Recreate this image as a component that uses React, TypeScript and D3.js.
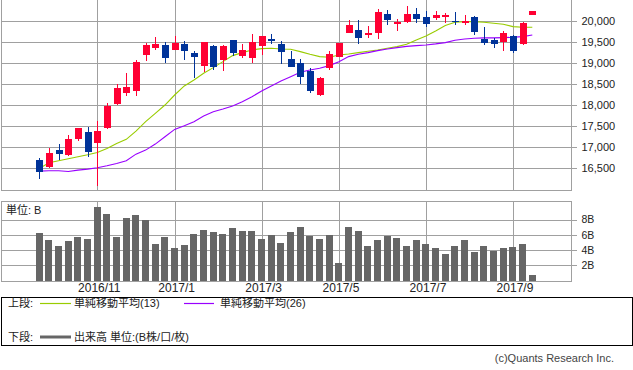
import React from 'react';
import * as d3 from 'd3';

const weeks = [
  '2016-09-26','2016-10-03','2016-10-10','2016-10-17','2016-10-24','2016-10-31','2016-11-07','2016-11-14','2016-11-21','2016-11-28',
  '2016-12-05','2016-12-12','2016-12-19','2016-12-26','2017-01-02','2017-01-09','2017-01-16','2017-01-23','2017-01-30','2017-02-06',
  '2017-02-13','2017-02-20','2017-02-27','2017-03-06','2017-03-13','2017-03-20','2017-03-27','2017-04-03','2017-04-10','2017-04-17',
  '2017-04-24','2017-05-01','2017-05-08','2017-05-15','2017-05-22','2017-05-29','2017-06-05','2017-06-12','2017-06-19','2017-06-26',
  '2017-07-03','2017-07-10','2017-07-17','2017-07-24','2017-07-31','2017-08-07','2017-08-14','2017-08-21','2017-08-28','2017-09-04',
  '2017-09-11','2017-09-18'
];

const openP = [16697,16540,16934,16822,17194,17361,17100,17455,18024,18286,18333,19187,19353,19424,19305,19448,19234,18926,19400,19068,
  19542,19163,19115,19400,19566,19448,19092,18997,18807,18238,18878,19139,19708,19779,19660,19708,20159,19929,19969,20159,
  20088,20064,20088,19993,19945,20088,19566,19542,19495,19637,19448,20135];
const highP = [16744,16981,17076,17289,17460,17487,17622,18047,18499,18760,19068,19471,19613,19495,19637,19519,19281,19495,19424,19424,
  19542,19447,19684,19637,19684,19519,19281,19092,18878,18665,19281,19471,20017,20017,19874,20277,20254,20040,20349,20301,
  20230,20230,20183,20206,20135,20112,19850,19589,19756,19660,19969,20230];
const lowP = [16254,16520,16697,16799,17155,16776,16087,17431,18001,18214,18214,19044,19305,18997,19305,19068,18641,18783,18831,18807,
  19163,19115,18997,19187,19448,18973,18902,18499,18286,18214,18831,19139,19708,19448,19589,19566,19898,19756,19945,19945,
  19850,20017,19945,19898,19898,19660,19424,19353,19281,19234,19424,20135];
const closeP = [16420,16863,16839,17194,17455,16887,17385,17976,18404,18428,19021,19424,19448,19115,19471,19281,19147,19495,18910,19400,
  19242,19305,19495,19637,19518,19258,18902,18665,18333,18641,19210,19471,19898,19589,19708,20206,20017,19969,20159,20040,
  19922,20135,20135,19969,19993,19732,19471,19448,19708,19281,19945,20230];

const ma13 = [16499,16633,16681,16728,16776,16823,16878,16973,17092,17187,17384,17606,17803,18001,18238,18452,18594,18752,18886,19028,
  19171,19242,19305,19337,19345,19329,19321,19266,19203,19147,19131,19187,19210,19242,19273,19305,19345,19384,19440,19542,
  19637,19756,19882,19961,19977,19977,19961,19937,19913,19858,19843,19843];
const ma26 = [16436,16444,16444,16428,16459,16483,16515,16562,16617,16681,16838,16933,17076,17250,17424,17511,17606,17740,17843,17906,
  17977,18080,18198,18333,18452,18570,18673,18776,18831,18870,18934,19028,19147,19203,19242,19289,19329,19360,19390,19408,
  19424,19448,19479,19535,19566,19582,19590,19590,19597,19605,19621,19661];

const volumeB = [6.2,5.3,4.5,5.2,5.7,5.4,9.6,8.7,5.7,8.2,8.6,8.0,4.8,5.7,4.3,4.65,6.1,6.6,6.35,6.1,
  6.9,6.5,6.5,5.4,6.0,4.9,6.35,7.0,5.9,5.4,6.0,2.3,7.0,6.5,4.5,5.3,5.8,5.6,4.5,5.3,
  4.8,4.3,3.5,4.5,5.3,3.7,4.5,3.9,4.3,4.4,4.8,0.7];

const tickWeeks = ['2016-11-07','2017-01-02','2017-03-06','2017-05-01','2017-07-03','2017-09-04'];
const tickLabels = ['2016/11','2017/1','2017/3','2017/5','2017/7','2017/9'];
const priceTicks = [16500,17000,17500,18000,18500,19000,19500,20000];
const volumeTicks = [2,4,6,8];

const UP = '#ff0033';
const DOWN = '#003399';
const GRID = '#a0a0a0';
const LAT = '"Liberation Sans", Arial, sans-serif';
const JP = '"Liberation Sans", "Noto Sans CJK JP", sans-serif';

export default function App() {
  const L = 1, R = 571.5;
  const x = d3.scalePoint<string>().domain(weeks).range([39.3, 532.3]);
  const yP = d3.scaleLinear().domain([16000, 20500]).range([189.5, -0.5]);
  const yV = d3.scaleLinear().domain([0, 8]).range([280.7, 219.5]);
  const pTop = 0, pBot = 190.5, vTop = 201.5, vBot = 281;
  const bw = 7;
  const idx = weeks.map((_, i) => i);
  const lineP = (arr: number[]) =>
    d3.line<number>().x(i => x(weeks[i])!).y(i => yP(arr[i]))(idx) || '';

  return (
    <svg width={633} height={370} style={{ position: 'absolute', left: 0, top: 0, background: '#fff' }}>
      {/* price panel grid */}
      <g shapeRendering="crispEdges" stroke={GRID} strokeWidth={1}>
        {priceTicks.map(t => (
          <line key={t} x1={L} x2={R + 5} y1={Math.round(yP(t)) + 0.5} y2={Math.round(yP(t)) + 0.5} />
        ))}
        {tickWeeks.map(w => (
          <line key={w} x1={Math.round(x(w)!) + 0.5} x2={Math.round(x(w)!) + 0.5} y1={pTop} y2={pBot} />
        ))}
        <line x1={L + 0.5} x2={L + 0.5} y1={pTop} y2={pBot} />
        <line x1={R} x2={R} y1={pTop} y2={pBot} />
        <line x1={L} x2={R} y1={pBot} y2={pBot} />
      </g>
      {/* volume panel grid */}
      <g shapeRendering="crispEdges" stroke={GRID} strokeWidth={1}>
        {volumeTicks.map(t => (
          <line key={t} x1={L} x2={R + 5} y1={Math.round(yV(t)) + 0.5} y2={Math.round(yV(t)) + 0.5} />
        ))}
        {tickWeeks.map(w => (
          <line key={w} x1={Math.round(x(w)!) + 0.5} x2={Math.round(x(w)!) + 0.5} y1={vTop} y2={vBot} />
        ))}
        <line x1={L + 0.5} x2={L + 0.5} y1={vTop} y2={vBot} />
        <line x1={R} x2={R} y1={vTop} y2={vBot} />
        <line x1={L} x2={R} y1={vTop} y2={vTop} />
        <line x1={L} x2={R} y1={vBot} y2={vBot} />
      </g>
      {/* volume bars */}
      <g shapeRendering="crispEdges" fill="#666666">
        {weeks.map((w, i) => (
          <rect key={w} x={Math.round(x(w)! - bw / 2)} width={bw} y={yV(volumeB[i])} height={vBot - 0.5 - yV(volumeB[i])} />
        ))}
      </g>
      {/* moving averages */}
      <path d={lineP(ma13)} fill="none" stroke="#99cc00" strokeWidth={1.1} />
      <path d={lineP(ma26)} fill="none" stroke="#9900ff" strokeWidth={1.1} />
      {/* candles */}
      <g shapeRendering="crispEdges">
        {weeks.map((w, i) => {
          const up = closeP[i] >= openP[i];
          const c = up ? UP : DOWN;
          const cx = Math.round(x(w)!);
          const top = yP(Math.max(openP[i], closeP[i]));
          const bot = yP(Math.min(openP[i], closeP[i]));
          return (
            <g key={w}>
              <line x1={cx + 0.5} x2={cx + 0.5} y1={yP(highP[i])} y2={yP(lowP[i])} stroke={c} strokeWidth={1} />
              <rect x={cx - 3} width={bw} y={top} height={Math.max(1, bot - top)} fill={c} />
            </g>
          );
        })}
      </g>
      {/* price axis labels */}
      <g fontFamily={LAT} fontSize={11} fill="#222">
        {priceTicks.map(t => (
          <text key={t} x={581.5} y={yP(t)} dy="0.36em">{d3.format(',')(t)}</text>
        ))}
      </g>
      {/* volume axis labels */}
      <g fontFamily={LAT} fontSize={10.5} fill="#222">
        {volumeTicks.map(t => (
          <text key={t} x={581.5} y={yV(t)} dy="0.36em">{t}B</text>
        ))}
      </g>
      <text x={6} y={210} dy="0.36em" fontFamily={JP} fontSize={11} fill="#222">単位: B</text>
      {/* x labels */}
      <g fontFamily={LAT} fontSize={12} fill="#222" textAnchor="middle">
        {tickWeeks.map((w, i) => (
          <text key={w} x={x(w)! + 2} y={292}>{tickLabels[i]}</text>
        ))}
      </g>
      {/* legend */}
      <rect x={1.5} y={297.5} width={630.5} height={48} fill="none" stroke="#000" strokeWidth={1} shapeRendering="crispEdges" />
      <g fontFamily={JP} fontSize={11} fill="#222">
        <text x={8} y={303.5} dy="0.36em">上段:</text>
        <line x1={40} x2={71} y1={303.5} y2={303.5} stroke="#99cc00" strokeWidth={1.2} />
        <text x={74} y={303.5} dy="0.36em">単純移動平均(13)</text>
        <line x1={184} x2={214} y1={303.5} y2={303.5} stroke="#9900ff" strokeWidth={1.2} />
        <text x={220} y={303.5} dy="0.36em">単純移動平均(26)</text>
        <text x={8} y={337} dy="0.36em">下段:</text>
        <line x1={40} x2={71} y1={337} y2={337} stroke="#666666" strokeWidth={3} />
        <text x={74} y={337} dy="0.36em">出来高 単位:(B株/口/枚)</text>
      </g>
      <text x={614} y={358} dy="0.36em" textAnchor="end" fontFamily={LAT} fontSize={11} fill="#444">(c)Quants Research Inc.</text>
    </svg>
  );
}
